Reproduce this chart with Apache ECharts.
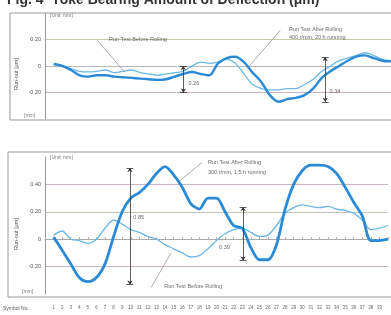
<!DOCTYPE html>
<html>
<head>
<meta charset="utf-8">
<script src="https://cdn.jsdelivr.net/npm/echarts@6/dist/echarts.min.js"></script>
<style>
  html, body { margin: 0; padding: 0; background: #fff; }
  #chart { width: 391px; height: 315px; filter: blur(0.6px); }
</style>
</head>
<body>
<div id="chart"></div>
<script>
// symbol numbers along the bottom
var symbolNo = [];
for (var i = 1; i <= 40; i++) symbolNo.push(i);

// upper panel, run-out [mm]
var topAfter = [0.015, 0.0, -0.03, -0.07, -0.08, -0.07, -0.07, -0.08, -0.085, -0.09,
  -0.095, -0.1, -0.105, -0.1, -0.08, -0.06, -0.045, -0.06, -0.07, 0.02,
  0.06, 0.07, 0.03, -0.05, -0.12, -0.22, -0.27, -0.25, -0.24, -0.22,
  -0.17, -0.09, -0.04, 0.0, 0.04, 0.07, 0.08, 0.06, 0.04, 0.035];
var topBefore = [0.015, 0.0, -0.02, -0.04, -0.045, -0.04, -0.03, -0.05, -0.04, -0.03,
  -0.05, -0.06, -0.07, -0.06, -0.05, -0.04, 0.0, 0.03, 0.02, 0.03,
  0.05, 0.02, -0.06, -0.14, -0.17, -0.18, -0.18, -0.17, -0.17, -0.14,
  -0.1, -0.04, 0.0, 0.04, 0.06, 0.08, 0.1, 0.08, 0.05, 0.04];

// lower panel, run-out [mm]
var botAfter = [0.015, -0.08, -0.18, -0.28, -0.31, -0.28, -0.18, 0.02, 0.2, 0.3,
  0.34, 0.4, 0.48, 0.53, 0.47, 0.38, 0.26, 0.22, 0.3, 0.3,
  0.2, 0.1, 0.08, -0.06, -0.15, -0.15, -0.04, 0.22, 0.4, 0.5,
  0.54, 0.54, 0.53, 0.48, 0.38, 0.27, 0.17, -0.01, -0.01, 0.0];
var botBefore = [0.03, 0.06, 0.0, -0.01, -0.03, 0.0, 0.08, 0.14, 0.11, 0.07,
  0.05, 0.02, 0.0, -0.04, -0.07, -0.1, -0.13, -0.12, -0.07, -0.01,
  0.04, 0.07, 0.08, 0.05, 0.02, 0.03, 0.1, 0.19, 0.23, 0.25,
  0.24, 0.23, 0.24, 0.22, 0.21, 0.19, 0.14, 0.07, 0.08, 0.1];

// dimension marks: [symbol no, from, to, label, label x, label y]
var topDims = [[16, 0, -0.2, '0.26', 16.6, -0.13], [32.4, 0.068, -0.27, '0.34', 32.9, -0.19]];
var botDims = [[9.9, 0.52, -0.33, '0.85', 10.3, 0.16], [23.1, 0.235, -0.155, '0.39', 20.3, -0.06]];

// leader lines: [x1, y1, x2, y2]
var topLeaders = [[6, 0.196, 9.2, -0.045], [27.2, 0.27, 23.5, -0.01]];
var botLeaders = [[18.3, 0.56, 15.6, 0.42], [12.4, -0.35, 14.7, -0.1]];

// notes: [x, y, text]
var topNotes = [[7.4, 0.2, 'Run Test Before Rolling'], [28.2, 0.275, 'Run Test After Rolling'], [28.2, 0.215, '400 r/min, 20 h running']];
var botNotes = [[19.0, 0.56, 'Run Test After Rolling'], [19.0, 0.49, '300 r/min, 1.5 h running'], [13.9, -0.345, 'Run Test Before Rolling']];

var thick = '#2a8ad6';
var thin = '#6bb8e8';

function pairs(vals) {
  return vals.map(function (v, i) { return [symbolNo[i], v]; });
}

function dimLines(dims) {
  var out = [];
  dims.forEach(function (d) {
    out.push([{ coord: [d[0], d[1]], symbol: 'arrow', symbolSize: 4 }, { coord: [d[0], d[2]], symbol: 'arrow', symbolSize: 4 }]);
    out.push([{ coord: [d[0] - 0.4, d[1]], symbol: 'none' }, { coord: [d[0] + 0.4, d[1]], symbol: 'none' }]);
    out.push([{ coord: [d[0] - 0.4, d[2]], symbol: 'none' }, { coord: [d[0] + 0.4, d[2]], symbol: 'none' }]);
  });
  return out;
}

function leaderLines(ls) {
  return ls.map(function (l) {
    return [{ coord: [l[0], l[1]], symbol: 'none', lineStyle: { color: '#777', width: 0.6 } },
      { coord: [l[2], l[3]], symbol: 'none' }];
  });
}

function noteSeries(idx, notes, dims) {
  var data = notes.map(function (n) { return { value: [n[0], n[1]], name: n[2] }; });
  dims.forEach(function (d) { data.push({ value: [d[4], d[5]], name: d[3] }); });
  return {
    type: 'scatter', xAxisIndex: idx, yAxisIndex: idx, symbolSize: 0, silent: true,
    data: data,
    label: { show: true, position: 'right', distance: 0, formatter: '{b}', fontSize: 5.5, color: '#444',
      fontFamily: 'Liberation Sans' }
  };
}

function yLabels(keep) {
  return function (v) {
    v = Math.round(v * 100) / 100;
    if (keep.indexOf(v) < 0) return '';
    return v === 0 ? '0' : v.toFixed(2);
  };
}

var myChart = echarts.init(document.getElementById('chart'));

var option = {
  backgroundColor: '#fff',
  animation: false,
  title: {
    text: 'Fig. 4  Yoke Bearing Amount of Deflection (\u03bcm)',
    left: 2, top: -12,
    textStyle: { fontSize: 14, fontWeight: 'bold', color: '#333', fontFamily: 'Liberation Sans' }
  },
  grid: [
    { left: 45, right: 0, top: 13, height: 106 },
    { left: 45, right: 0, top: 157, height: 137 }
  ],
  xAxis: [
    { gridIndex: 0, type: 'value', min: 0, max: 40, show: false },
    {
      gridIndex: 1, type: 'value', min: 0, max: 40, interval: 1,
      axisLine: { lineStyle: { color: '#aaa' } },
      axisTick: { inside: true, length: 2, lineStyle: { color: '#aaa' } },
      splitLine: { show: false },
      axisLabel: { fontSize: 4.5, color: '#666', margin: 11,
        formatter: function (v) { return v >= 1 && v <= 39 ? v : ''; } }
    }
  ],
  yAxis: [
    {
      gridIndex: 0, type: 'value', min: -0.4, max: 0.4, interval: 0.2,
      axisLine: { show: true, lineStyle: { color: '#999' } }, axisTick: { show: false },
      axisLabel: { fontSize: 5.5, color: '#555', margin: 4, formatter: yLabels([0.2, 0, -0.2]) },
      splitLine: { lineStyle: { color: ['transparent', '#c9b3c4', '#b8b8b8', '#c2c9a8', 'transparent'], width: 1 } }
    },
    {
      gridIndex: 1, type: 'value', min: -0.4, max: 0.6, interval: 0.2,
      axisLine: { show: true, lineStyle: { color: '#999' } }, axisTick: { show: false },
      axisLabel: { fontSize: 5.5, color: '#555', margin: 4, formatter: yLabels([0.4, 0.2, 0, -0.2]) },
      splitLine: { lineStyle: { color: ['transparent', '#c9b3c4', '#b8b8b8', '#c4c4b4', '#c9b3c4', 'transparent'], width: 1 } }
    }
  ],
  graphic: [
    { type: 'rect', shape: { x: 10, y: 13, width: 390, height: 107 }, style: { fill: 'none', stroke: '#999', lineWidth: 1 }, silent: true },
    { type: 'rect', shape: { x: 8, y: 152, width: 392, height: 145 }, style: { fill: 'none', stroke: '#999', lineWidth: 1 }, silent: true },
    { type: 'text', x: 50, y: 13, style: { text: '[Unit: mm]', fontSize: 5, fill: '#777', fontFamily: 'Liberation Sans' } },
    { type: 'text', x: 50, y: 155, style: { text: '[Unit: mm]', fontSize: 5, fill: '#777', fontFamily: 'Liberation Sans' } },
    { type: 'text', x: 24, y: 113, style: { text: '[mm]', fontSize: 5, fill: '#777', fontFamily: 'Liberation Sans' } },
    { type: 'text', x: 22, y: 289, style: { text: '[mm]', fontSize: 5, fill: '#777', fontFamily: 'Liberation Sans' } },
    { type: 'text', x: 13, y: 90, rotation: Math.PI / 2, style: { text: 'Run-out [\u03bcm]', fontSize: 5.5, fill: '#555', fontFamily: 'Liberation Sans' } },
    { type: 'text', x: 13, y: 250, rotation: Math.PI / 2, style: { text: 'Run-out [\u03bcm]', fontSize: 5.5, fill: '#555', fontFamily: 'Liberation Sans' } },
    { type: 'text', x: 3, y: 306, style: { text: 'Symbol No.', fontSize: 5, fill: '#555', fontFamily: 'Liberation Sans' } }
  ],
  series: [
    {
      name: 'Before', type: 'line', xAxisIndex: 0, yAxisIndex: 0, data: pairs(topBefore),
      showSymbol: false, smooth: 0.3, lineStyle: { color: thin, width: 1.3 }
    },
    {
      name: 'After', type: 'line', xAxisIndex: 0, yAxisIndex: 0, data: pairs(topAfter),
      showSymbol: false, smooth: 0.3, lineStyle: { color: thick, width: 2.4 },
      markLine: {
        silent: true, label: { show: false },
        lineStyle: { color: '#333', width: 0.8, type: 'solid' },
        data: dimLines(topDims).concat(leaderLines(topLeaders))
      }
    },
    {
      name: 'Before', type: 'line', xAxisIndex: 1, yAxisIndex: 1, data: pairs(botBefore),
      showSymbol: false, smooth: 0.3, lineStyle: { color: thin, width: 1.3 }
    },
    {
      name: 'After', type: 'line', xAxisIndex: 1, yAxisIndex: 1, data: pairs(botAfter),
      showSymbol: false, smooth: 0.3, lineStyle: { color: thick, width: 2.8 },
      markLine: {
        silent: true, label: { show: false },
        lineStyle: { color: '#333', width: 0.8, type: 'solid' },
        data: dimLines(botDims).concat(leaderLines(botLeaders))
      }
    },
    noteSeries(0, topNotes, topDims),
    noteSeries(1, botNotes, botDims)
  ]
};

myChart.setOption(option);
window.addEventListener("resize", function () {
  myChart.resize();
});
</script>
</body>
</html>
